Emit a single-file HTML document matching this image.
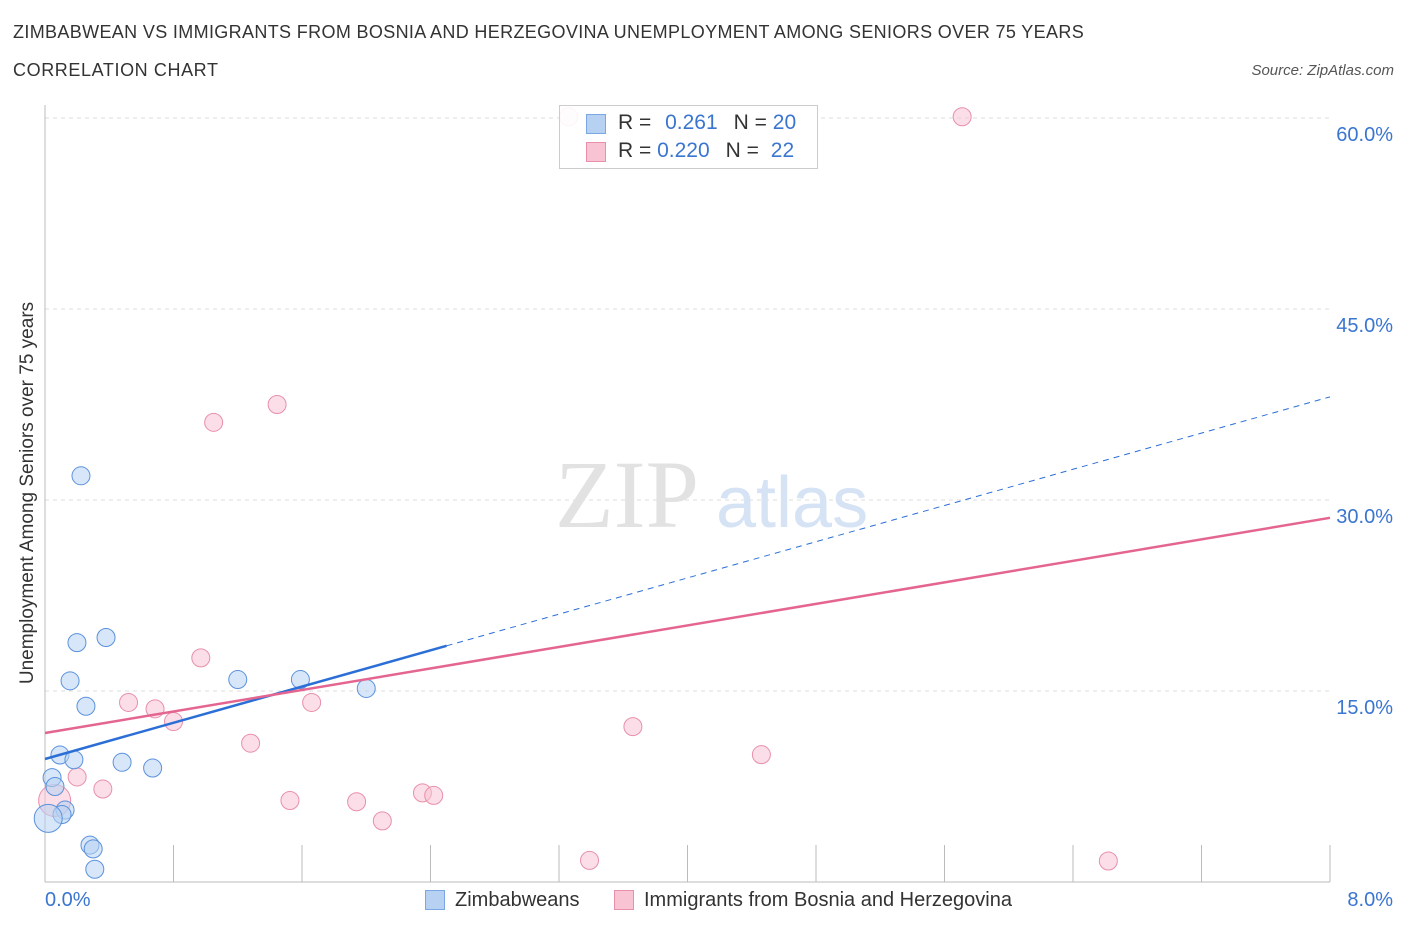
<!DOCTYPE html>
<html><head><meta charset="utf-8"><style>
body{margin:0;background:#fff;font-family:"Liberation Sans",sans-serif;}
#wrap{position:relative;width:1406px;height:930px;overflow:hidden;}
.t{position:absolute;white-space:nowrap;}
</style></head><body>
<div id="wrap">
<div class="t" style="left:13px;top:22px;font-size:18px;letter-spacing:0.35px;color:#333;">ZIMBABWEAN VS IMMIGRANTS FROM BOSNIA AND HERZEGOVINA UNEMPLOYMENT AMONG SENIORS OVER 75 YEARS</div>
<div class="t" style="left:13px;top:60px;font-size:18px;letter-spacing:0.6px;color:#333;">CORRELATION CHART</div>
<div class="t" style="right:12px;top:62px;font-size:15px;color:#555;font-style:italic;">Source: ZipAtlas.com</div>
<svg id="svg" width="1406" height="930" style="position:absolute;left:0;top:0"></svg>
</div>
<script>
const blueX=[0.224,0.199,0.38,0.156,0.255,1.2,1.59,2.0,0.093,0.18,0.48,0.67,0.044,0.062,0.125,0.106,0.02,0.28,0.30,0.31];
const blueY=[31.9,18.8,19.2,15.8,13.8,15.9,15.9,15.2,9.97,9.6,9.4,8.95,8.2,7.5,5.65,5.3,5.0,2.9,2.6,1.0];
const blueR=[9,9,9,9,9,9,9,9,9,9,9,9,9,9,9,9,14,9,9,9];
const pinkX=[3.26,5.71,1.445,1.05,0.97,0.52,0.685,0.8,1.66,1.28,3.66,4.46,0.2,0.36,1.525,1.94,2.35,2.42,2.1,3.39,6.62,0.06];
const pinkY=[60.1,60.1,37.5,36.1,17.6,14.1,13.6,12.6,14.1,10.9,12.2,10.0,8.25,7.3,6.4,6.3,7.0,6.8,4.8,1.7,1.65,6.4];
const pinkR=[9,9,9,9,9,9,9,9,9,9,9,9,9,9,9,9,9,9,9,9,9,16];
const blueTrend=[9.66,38.1];
const pinkTrend=[11.7,28.6];
const yTicks=[15,30,45,60];
const xTickVals=[0,0.8,1.6,2.4,3.2,4.0,4.8,5.6,6.4,7.2,8.0];
const NS='http://www.w3.org/2000/svg';
const svg=document.getElementById('svg');
const X=v=>45+v*(1285/8);
const Y=v=>882-v*(764/60);
function mk(tag,attrs){const e=document.createElementNS(NS,tag);for(const k in attrs)e.setAttribute(k,attrs[k]);svg.appendChild(e);return e;}
yTicks.forEach(v=>{
 const g=mk('line',{x1:45,x2:1330,y1:Y(v),y2:Y(v),stroke:'#ddd','stroke-dasharray':'4,4'});
 
 
 const t=mk('text',{x:1393,y:Y(v)+23,'text-anchor':'end','font-size':20,fill:'#3a75d0','font-family':'Liberation Sans, sans-serif'});
 t.textContent=v.toFixed(1)+'%';
 
 
});
let a=mk('line',{x1:45,x2:45,y1:105,y2:882,stroke:'#bbb'});


a=mk('line',{x1:45,x2:1330,y1:882,y2:882,stroke:'#bbb'});


xTickVals.forEach(v=>{
 const l=mk('line',{x1:X(v),x2:X(v),y1:845,y2:882,stroke:'#bbb'});
 
 
});
let w=mk('text',{x:555,y:527,'font-size':96,fill:'#e2e2e2','font-family':'Liberation Serif, serif'});w.textContent='ZIP';


w=mk('text',{x:716,y:527,'font-size':72,fill:'#d6e3f5','font-family':'Liberation Sans, sans-serif'});w.textContent='atlas';


function pts(xs,ys,rs,fill,stroke,name){xs.forEach((x,i)=>{
 const c=mk('circle',{cx:X(x),cy:Y(ys[i]),r:rs[i],fill:fill,'fill-opacity':0.55,stroke:stroke,'stroke-width':1});
 
 
});}
pts(pinkX,pinkY,pinkR,'#f8c3d3','#e890aa','point-bosnia');
pts(blueX,blueY,blueR,'#b7d1f3','#5b92dc','point-zimbabwean');
const bx=2.5;
let l=mk('line',{x1:X(0),y1:Y(blueTrend[0]),x2:X(bx),y2:Y(blueTrend[0]+(blueTrend[1]-blueTrend[0])*bx/8),stroke:'#2b6fd6','stroke-width':2.5});


l=mk('line',{x1:X(bx),y1:Y(blueTrend[0]+(blueTrend[1]-blueTrend[0])*bx/8),x2:X(8),y2:Y(blueTrend[1]),stroke:'#2b6fd6','stroke-width':1,'stroke-dasharray':'6,5'});


l=mk('line',{x1:X(0),y1:Y(pinkTrend[0]),x2:X(8),y2:Y(pinkTrend[1]),stroke:'#e4658f','stroke-width':2.5});


</script>
<div class="t" style="left:45px;top:889px;font-size:20px;color:#3a75d0;">0.0%</div>
<div class="t" style="right:13px;top:889px;font-size:20px;color:#3a75d0;">8.0%</div>
<div class="t" style="left:28px;top:493px;font-size:19px;color:#333;transform:translate(-50%,-50%) rotate(-90deg);">Unemployment Among Seniors over 75 years</div>
<div style="position:absolute;left:559px;top:105px;width:257px;height:62px;border:1px solid #ccc;background:rgba(255,255,255,0.9);font-size:21px;color:#333;">
 <div style="position:absolute;left:26px;top:8px;width:20px;height:20px;background:#b7d1f3;border:1px solid #7aa6e3;box-sizing:border-box;"></div>
 <div class="t" style="left:58px;top:5px;">R = <span style="color:#3a75d0;margin-left:8px">0.261</span><span style="margin-left:16px">N = </span><span style="color:#3a75d0">20</span></div>
 <div style="position:absolute;left:26px;top:36px;width:20px;height:20px;background:#f8c3d3;border:1px solid #e890aa;box-sizing:border-box;"></div>
 <div class="t" style="left:58px;top:33px;">R = <span style="color:#3a75d0;">0.220</span><span style="margin-left:16px">N = </span><span style="color:#3a75d0;margin-left:6px">22</span></div>
</div>
<div style="position:absolute;left:425px;top:889px;font-size:20px;color:#333;">
 <span style="display:inline-block;width:20px;height:20px;background:#b7d1f3;border:1px solid #7aa6e3;box-sizing:border-box;vertical-align:-4px;margin-right:10px"></span>Zimbabweans</div>
<div style="position:absolute;left:614px;top:889px;font-size:20px;color:#333;">
 <span style="display:inline-block;width:20px;height:20px;background:#f8c3d3;border:1px solid #e890aa;box-sizing:border-box;vertical-align:-4px;margin-right:10px"></span>Immigrants from Bosnia and Herzegovina</div>
</body></html>
